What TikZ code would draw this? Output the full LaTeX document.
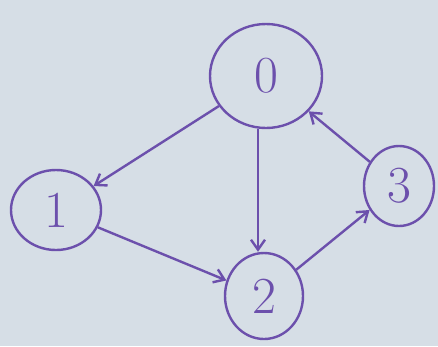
\documentclass[tikz,border=0pt]{standalone}
\usepackage{fontspec}
\usetikzlibrary{shapes.geometric,arrows.meta}
\definecolor{paper}{RGB}{214,222,230}
\definecolor{ink}{RGB}{108,80,172}
\begin{document}
\begin{tikzpicture}[x=1pt,y=-1pt,
  vert/.style={draw=ink,line width=2.4pt,ellipse,text=ink,font=\fontsize{52}{52}\selectfont,inner sep=0pt},
  edge/.style={draw=ink,line width=2.4pt,-{Straight Barb[length=10pt,width=14pt,line width=2.4pt]}}]
\fill[paper] (0,0) rectangle (438,346);
\useasboundingbox (0,0) rectangle (438,346);
\node[vert,minimum width=112pt,minimum height=104pt] (n0) at (266,76) {0};
\node[vert,minimum width=90pt,minimum height=80pt] (n1) at (56,210) {1};
\node[vert,minimum width=78pt,minimum height=86pt] (n2) at (264,296) {2};
\node[vert,minimum width=70pt,minimum height=80pt] (n3) at (399,186) {3};
\draw[edge] (n0) -- (n1);
\draw[edge] (n0.south) ++(-8,0) coordinate (a) -- (a |- n2.north);
\draw[edge] (n1) -- (n2);
\draw[edge] (n2) -- (n3);
\draw[edge] (n3) -- (n0);
\end{tikzpicture}
\end{document}
